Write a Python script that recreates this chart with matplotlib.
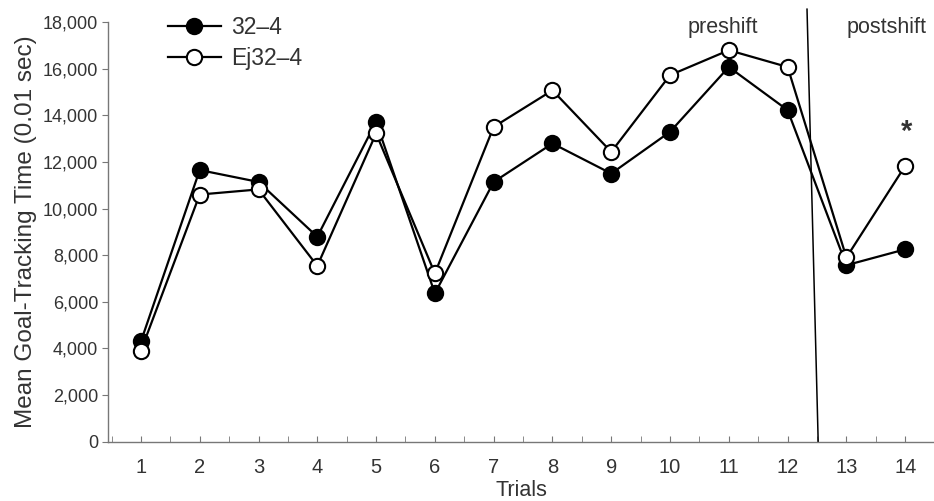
import matplotlib
matplotlib.use("Agg")
import matplotlib.pyplot as plt
from matplotlib.ticker import MultipleLocator, FuncFormatter

plt.rcParams['font.family'] = ['Liberation Sans', 'DejaVu Sans']

trials = list(range(1, 15))
g32_4 = [4300, 11650, 11140, 8790, 13720, 6360, 11140, 12790, 11500, 13290, 16070, 14220, 7570, 8250]
ej32_4 = [3900, 10600, 10820, 7540, 13220, 7220, 13500, 15070, 12430, 15720, 16790, 16070, 7900, 11830]
series_labels = ["32\u20134", "Ej32\u20134"]
yticks = list(range(0, 18001, 2000))

txt = '#333333'
fig = plt.figure(figsize=(9.34, 5.01), dpi=100)
ax = fig.add_axes([108/934, 1-441.7/501, 1-108/934, (441.7-22)/501])

ax.plot(trials, g32_4, color='black', lw=1.6, marker='o', ms=11,
        mfc='black', mec='black', mew=1.5, label=series_labels[0], zorder=3)
ax.plot(trials, ej32_4, color='black', lw=1.6, marker='o', ms=11,
        mfc='white', mec='black', mew=1.5, label=series_labels[1], zorder=4)

# shift separator line
ax.plot([12.33, 12.52], [18550, 0], color='black', lw=1.1, clip_on=False, zorder=2)

ax.set_xlim(0.44, 14.49)
ax.set_ylim(0, 18000)
ax.set_yticks(yticks)
ax.yaxis.set_major_formatter(FuncFormatter(lambda v, p: f"{int(v):,}"))
ax.set_xticks(trials)
ax.xaxis.set_minor_locator(MultipleLocator(0.5))

for s in ['top', 'right']:
    ax.spines[s].set_visible(False)
for s in ['left', 'bottom']:
    ax.spines[s].set_color('#777777')
    ax.spines[s].set_linewidth(1.0)

ax.tick_params(axis='y', direction='out', length=4, color='#777777', labelsize=13, labelcolor=txt, pad=3)
ax.tick_params(axis='x', which='both', direction='in', length=4, color='#777777', labelsize=14.5, labelcolor=txt, pad=12)

ax.set_ylabel("Mean Goal-Tracking Time (0.01 sec)", fontsize=17.5, color=txt, labelpad=4)
ax.set_xlabel("Trials", fontsize=15.5, color=txt, labelpad=2)

ax.text(10.9, 17750, "preshift", fontsize=15.5, color=txt, ha='center', va='center')
ax.text(13.68, 17750, "postshift", fontsize=15.5, color=txt, ha='center', va='center')
ax.text(14.02, 13300, "*", fontsize=21, color=txt, ha='center', va='center', fontweight='bold')

leg = ax.legend(loc='upper left', bbox_to_anchor=(168/934, 1-16/501), bbox_transform=fig.transFigure,
                frameon=False, fontsize=16.5, handlelength=2.3, handletextpad=0.45,
                labelspacing=0.35, borderpad=0, borderaxespad=0, markerscale=1.0)
for t in leg.get_texts():
    t.set_color(txt)

fig.savefig("out.png", dpi=100)
